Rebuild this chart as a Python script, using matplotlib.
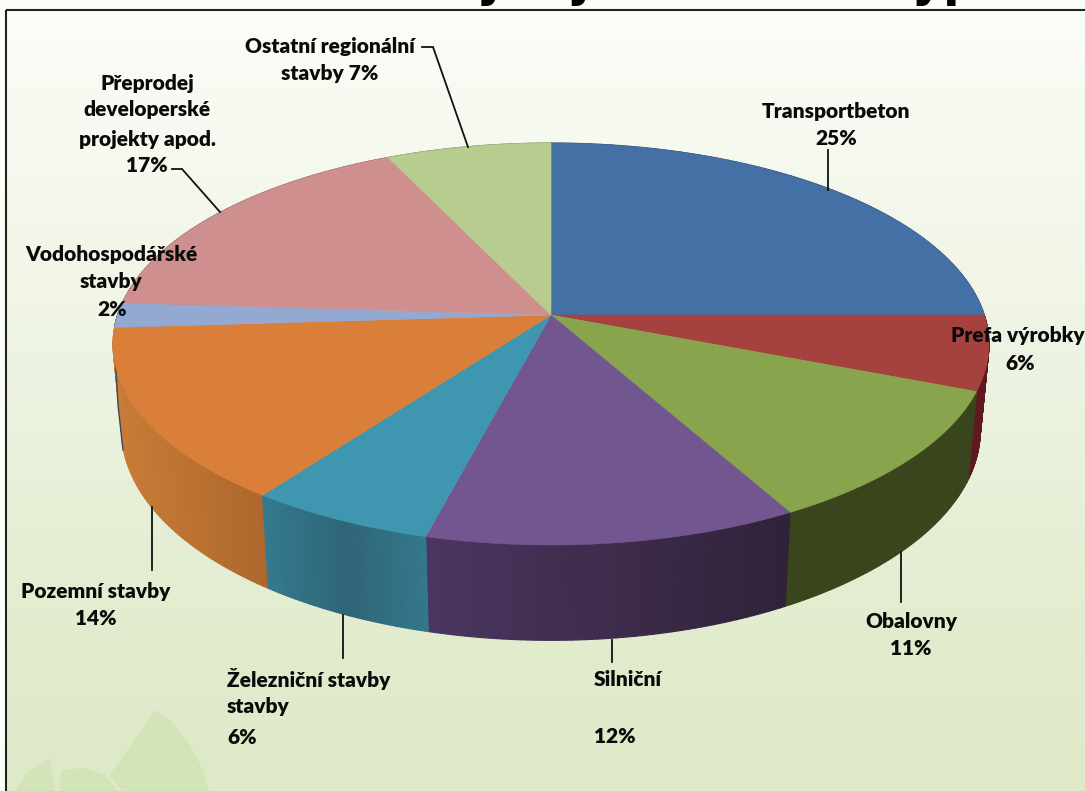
"""Perspektivni kolac - podil typu staveb, vykreslen v pixelovych souradnicich."""

import matplotlib

matplotlib.use("Agg")
import matplotlib.pyplot as plt
import numpy as np
from matplotlib.collections import PolyCollection
from matplotlib.colors import to_rgb
from matplotlib.patches import Polygon

categories = [
    "Transportbeton",
    "Prefa výrobky",
    "Obalovny",
    "Silniční",
    "Železniční stavby",
    "Pozemní stavby",
    "Vodohospodářské stavby",
    "Přeprodej developerské projekty apod.",
    "Ostatní regionální stavby",
]
values = [25, 6, 11, 12, 6, 14, 2, 17, 7]
top_colors = ["#4470a6", "#a54240", "#88a44c", "#725690", "#3f96b0",
              "#d97f3a", "#93a9d2", "#cf8f8f", "#b9cc90"]
wall_left = ["#2b4566", "#5e1a20", "#39451c", "#4a3660", "#337a8e",
             "#c97c37", "#5a6a85", "#7d5656", "#70804f"]
wall_mid = ["#2b4566", "#5e1a20", "#39451c", "#3d2c4c", "#2f6577",
            "#bb7232", "#5a6a85", "#7d5656", "#70804f"]
wall_right = ["#2b4566", "#5e1a20", "#39451c", "#302238", "#33788c",
              "#ad672c", "#5a6a85", "#7d5656", "#70804f"]
# poradi bocnich sten od zadnich po predni
wall_order = [0, 8, 7, 6, 1, 2, 3, 5, 4]

W, H = 1085, 791
CX, CY = 551, 315
K = 0.1443
A, B = 196.8, 433.4
TOP_BG = "#fbfdf7"

plt.rcParams["font.family"] = ["Lato", "DejaVu Sans"]


def top_point(theta):
    """Bod na horni hrane kolace, theta meren od 12 hodin po smeru hodin."""
    u, v = np.sin(theta), np.cos(theta)
    d = 1 + K * v
    return CX + B * u / d, CY - A * v / d


def bottom_point(theta):
    x, y = top_point(theta)
    return CX + 0.98 * (x - CX), y + 85 + 0.045 * (y - CY)


fig = plt.figure(figsize=(W / 100, H / 100), dpi=100)
ax = fig.add_axes([0, 0, 1, 1])
ax.set_xlim(0, W)
ax.set_ylim(H, 0)
ax.axis("off")

# pozadi s prechodem
rows = np.arange(H)
stops_y = [10, 300, 480, 650, 790]
stops_c = np.array([to_rgb(c) for c in ["#fbfdf7", "#f0f5e6", "#e8f0d9", "#e1eccd", "#dee9c8"]])
grad = np.stack([np.interp(rows, stops_y, stops_c[:, i]) for i in range(3)], axis=1)
ax.imshow(grad[:, None, :], extent=(0, W, H, 0), aspect="auto", zorder=0)
ax.set_xlim(0, W)
ax.set_ylim(H, 0)

# vodoznak - listy vlevo dole
leaf = "#d2e4b8"
ax.add_patch(Polygon([(155, 710), (172, 722), (190, 745), (203, 770), (209, 791), (122, 791), (110, 775)],
                     color=leaf, lw=0, zorder=1))
ax.add_patch(Polygon([(15, 791), (28, 772), (50, 758), (55, 791)], color=leaf, lw=0, zorder=1))
ax.add_patch(Polygon([(60, 791), (61, 770), (85, 768), (105, 775), (118, 791)], color=leaf, lw=0, zorder=1))

# orezany nadpis
ax.add_patch(Polygon([(0, 0), (W, 0), (W, 10), (0, 10)], color=TOP_BG, lw=0, zorder=2))
ax.add_patch(Polygon([(0, 0), (6, 0), (6, H), (0, H)], color=TOP_BG, lw=0, zorder=2))
ax.text(18, -3.5, "Podíl obratu firmy a jeho díl dle typu", fontsize=34.5, fontweight="bold",
        family="DejaVu Sans", color="black", ha="left", va="baseline", zorder=3, clip_on=True)
ax.plot([6, W], [9.5, 9.5], color="#222222", lw=1.5, zorder=4, solid_capstyle="butt")
ax.plot([6, 6], [9.5, H], color="#222222", lw=1.5, zorder=4, solid_capstyle="butt")

# boky a horni plocha kolace
edges = np.cumsum([0] + values) / sum(values) * 2 * np.pi
for i in wall_order:
    t = np.linspace(edges[i], edges[i + 1], 60)
    xt, yt = top_point(t)
    xb, yb = bottom_point(t)
    span = max(xt.max() - xt.min(), 1)
    stops = np.array([to_rgb(wall_left[i]), to_rgb(wall_mid[i]), to_rgb(wall_right[i])])
    quads, cols = [], []
    for j in range(len(t) - 1):
        quads.append([(xt[j], yt[j]), (xt[j + 1], yt[j + 1]), (xb[j + 1], yb[j + 1]), (xb[j], yb[j])])
        f = (0.5 * (xt[j] + xt[j + 1]) - xt.min()) / span
        cols.append([np.interp(f, [0, 0.5, 1], stops[:, c]) for c in range(3)])
    ax.add_collection(PolyCollection(quads, facecolors=cols, edgecolors=cols, linewidths=0.8, zorder=5))

ax.plot([115.5, 118, 123], [362, 405, 450], color="#3c4a5e", lw=1, zorder=5.5)

for i in range(len(values)):
    t = np.linspace(edges[i], edges[i + 1], 120)
    xt, yt = top_point(t)
    pts = [(CX, CY)] + list(zip(xt, yt))
    ax.add_patch(Polygon(pts, closed=True, facecolor=top_colors[i], edgecolor=top_colors[i], lw=0.4, zorder=6))

# odkazove cary
leaders = [
    ([828, 828], [150, 190]),
    ([901, 901], [552, 602]),
    ([612, 612], [640, 662]),
    ([343, 343], [615, 658]),
    ([152, 152], [507, 570]),
    ([172, 182, 220], [169, 169, 212]),
    ([422, 433, 468], [47, 47, 147]),
]
for lx, ly in leaders:
    ax.plot(lx, ly, color="#111111", lw=1.3, zorder=7, solid_joinstyle="miter")

# popisky
labels = [
    ("Transportbeton", 836, 110, "center"),
    (f"{values[0]}%", 836, 137, "center"),
    ("Prefa výrobky", 1018, 334, "center"),
    (f"{values[1]}%", 1020, 362, "center"),
    ("Obalovny", 911, 620, "center"),
    (f"{values[2]}%", 911, 647, "center"),
    ("Silniční", 594, 678, "left"),
    (f"{values[3]}%", 594, 735, "left"),
    ("Železniční stavby", 227, 677, "left"),
    ("stavby", 227, 705, "left"),
    (f"{values[4]}%", 227, 736, "left"),
    ("Pozemní stavby", 96, 590, "center"),
    (f"{values[5]}%", 96, 617, "center"),
    ("Vodohospodářské", 111, 253, "center"),
    ("stavby", 111, 280, "center"),
    (f"{values[6]}%", 112, 308, "center"),
    ("Přeprodej", 147, 82, "center"),
    ("developerské", 147, 108, "center"),
    ("projekty apod.", 147, 138, "center"),
    (f"{values[7]}%", 147, 164, "center"),
    ("Ostatní regionální", 330, 45, "center"),
    (f"stavby {values[8]}%", 330, 72, "center"),
]
for txt, x, y, ha in labels:
    ax.text(x, y + 1.5, txt, ha=ha, va="center", fontsize=15, fontweight="heavy", color="#0a0a0a", zorder=8)

fig.savefig("out.png", dpi=100)
